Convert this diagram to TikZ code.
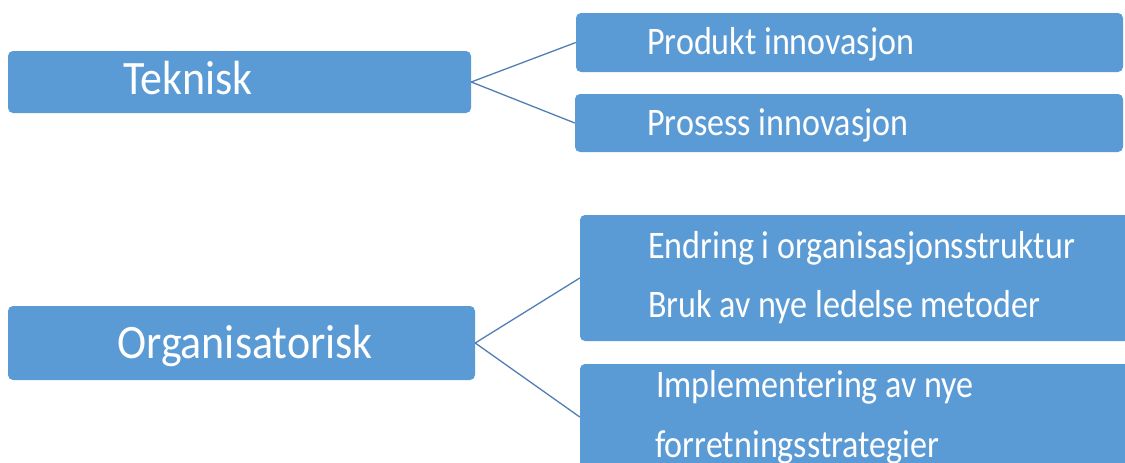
\documentclass[tikz,border=0pt]{standalone}
\usepackage{fontspec}
\setmainfont{Carlito}
\definecolor{boxblue}{HTML}{5B9BD5}
\definecolor{linkblue}{HTML}{4F7FB4}
\tikzset{
  catbox/.style={rectangle, rounded corners=5pt, fill=boxblue, draw=none, inner sep=0pt},
  bigtext/.style={anchor=base west, inner sep=0pt, text=white,
    font=\fontsize{48}{58}\selectfont},
  smalltext/.style={anchor=base west, inner sep=0pt, text=white,
    font=\fontsize{39}{47}\selectfont},
  link/.style={draw=linkblue, line width=1.3pt}
}
\newcommand{\squeeze}[1]{\scalebox{0.915}[1]{#1}}
\newcommand{\squeezesm}[1]{\scalebox{0.873}[1]{#1}}
\begin{document}
\begin{tikzpicture}[x=1pt,y=-1pt]
  \useasboundingbox (0,0) rectangle (1125,463);
  \clip (0,0) rectangle (1125,463);
  \fill[white] (0,0) rectangle (1125,463);

  % left-hand categories
  \node[catbox, minimum width=463pt, minimum height=62pt] (tek) at (239.5,82) {};
  \node[catbox, minimum width=467pt, minimum height=74pt] (org) at (241.5,343) {};

  % right-hand items
  \node[catbox, minimum width=547pt, minimum height=59pt] (prod) at (849.5,42.5) {};
  \node[catbox, minimum width=548pt, minimum height=58pt] (pros) at (849,123) {};
  \node[catbox, minimum width=560pt, minimum height=126pt] (endr) at (860,278) {};
  \node[catbox, minimum width=560pt, minimum height=106pt] (impl) at (860,417) {};

  % connectors
  \draw[link] (tek.east) -- (prod.west);
  \draw[link] (tek.east) -- (pros.west);
  \draw[link] (org.east) -- (endr.west);
  \draw[link] (org.east) -- (impl.west);

  % texts
  \node[bigtext] (tektxt) at (123,94) {\squeeze{Teknisk}};
  \node[bigtext] (orgtxt) at (117,358) {\squeeze{Organisatorisk}};
  \node[smalltext] (prodtxt) at (647,54) {\squeezesm{Produkt innovasjon}};
  \node[smalltext] (prostxt) at (647,135) {\squeezesm{Prosess innovasjon}};
  \node[smalltext] (endrtxt) at (648,258) {\squeezesm{Endring i organisasjonsstruktur}};
  \node[smalltext] (bruktxt) at (648,317) {\squeezesm{Bruk av nye ledelse metoder}};
  \node[smalltext] (impltxt) at (656,397) {\squeezesm{Implementering av nye}};
  \node[smalltext] (forrtxt) at (655,457) {\squeezesm{forretningsstrategier}};
\end{tikzpicture}
\end{document}
